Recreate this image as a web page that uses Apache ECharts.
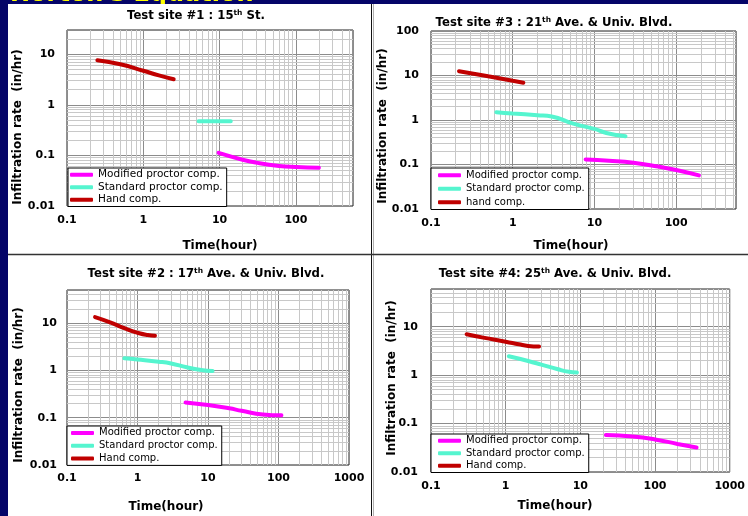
<!DOCTYPE html>
<html>
<head>
<meta charset="utf-8">
<script src="https://cdn.jsdelivr.net/npm/echarts@6/dist/echarts.min.js"></script>
<style>
html, body { margin: 0; padding: 0; background: #050568; }
#chart { width: 748px; height: 516px; }
</style>
</head>
<body>
<div id="chart"></div>
<script>
// Test site #1 : 15th St.
var site1ModTime = [9.7, 20, 30, 60, 100, 200];
var site1ModRate = [0.112, 0.082, 0.072, 0.062, 0.059, 0.057];
var site1StdTime = [5.3, 8, 14];
var site1StdRate = [0.47, 0.47, 0.47];
var site1HandTime = [0.25, 0.5, 1, 1.6, 2.5];
var site1HandRate = [7.6, 6.3, 4.7, 3.8, 3.2];

// Test site #3 : 21th Ave. & Univ. Blvd.
var site3ModTime = [7.8, 15, 30, 60, 100, 190];
var site3ModRate = [0.13, 0.122, 0.11, 0.09, 0.075, 0.057];
var site3StdTime = [0.63, 1, 2, 3, 5.5, 10, 14, 24];
var site3StdRate = [1.5, 1.4, 1.28, 1.2, 0.83, 0.63, 0.51, 0.43];
var site3HandTime = [0.22, 0.5, 1, 1.35];
var site3HandRate = [12.5, 9.6, 7.6, 6.9];

// Test site #2 : 17th Ave. & Univ. Blvd.
var site2ModTime = [4.8, 10, 20, 30, 60, 110];
var site2ModRate = [0.21, 0.185, 0.158, 0.14, 0.117, 0.112];
var site2StdTime = [0.65, 1, 2, 3, 5, 8, 11.6];
var site2StdRate = [1.8, 1.7, 1.53, 1.4, 1.16, 1.02, 0.97];
var site2HandTime = [0.25, 0.4, 0.68, 1.06, 1.4, 1.77];
var site2HandRate = [13.4, 10.5, 7.6, 6.1, 5.6, 5.4];

// Test site #4: 25th Ave. & Univ. Blvd.
var site4ModTime = [22, 50, 100, 200, 360];
var site4ModRate = [0.058, 0.054, 0.047, 0.038, 0.032];
var site4StdTime = [1.1, 2, 3, 5, 7, 9];
var site4StdRate = [2.45, 1.96, 1.65, 1.32, 1.17, 1.13];
var site4HandTime = [0.3, 0.5, 1, 1.5, 2, 2.8];
var site4HandRate = [7, 5.95, 4.9, 4.33, 4.0, 3.9];

var seriesNames = ['Modified proctor comp.', 'Standard proctor comp.', 'Hand comp.'];
var seriesNamesSite3 = ['Modified proctor comp.', 'Standard proctor comp.', 'hand comp.'];
var xTickLabels = ['0.1', '1', '10', '100', '1000'];
var yTickLabels = ['0.01', '0.1', '1', '10', '100'];

var FONT = "'DejaVu Sans', Verdana, sans-serif";
var colors = ['#FF00FF', '#55F5CF', '#C00000'];

var panels = [
    {
        title: '{b|Test site #1 : 15}{s|th}{b| St.}', titlePos: [196, 16],
        grid: {left: 67, top: 30, width: 286, height: 176},
        xMax: 560, yMax: 30, xMargin: 9, yMargin: 12,
        xName: [220, 246], yName: [18, 127],
        legend: {left: 68, top: 168, fontSize: 10.5, lineHeight: 11.5, padding: [1, 4, 1, 2]},
        names: seriesNames,
        lines: [[site1ModTime, site1ModRate], [site1StdTime, site1StdRate], [site1HandTime, site1HandRate]]
    },
    {
        title: '{b|Test site #3 : 21}{s|th}{b| Ave. & Univ. Blvd.}', titlePos: [554, 23],
        grid: {left: 431, top: 31, width: 305, height: 178},
        xMax: 540, yMax: 100, xMargin: 9, yMargin: 12,
        xName: [571, 246], yName: [383, 126],
        legend: {left: 431, top: 168, fontSize: 10, lineHeight: 12.5, padding: [1, 4, 1, 7]},
        names: seriesNamesSite3,
        lines: [[site3ModTime, site3ModRate], [site3StdTime, site3StdRate], [site3HandTime, site3HandRate]]
    },
    {
        title: '{b|Test site #2 : 17}{s|th}{b| Ave. & Univ. Blvd.}', titlePos: [206, 274],
        grid: {left: 67, top: 290, width: 282, height: 175},
        xMax: 1000, yMax: 50, xMargin: 8, yMargin: 10,
        xName: [166, 507], yName: [19, 385],
        legend: {left: 67, top: 426, fontSize: 10, lineHeight: 11.8, padding: [1, 4, 1, 4]},
        names: seriesNames,
        lines: [[site2ModTime, site2ModRate], [site2StdTime, site2StdRate], [site2HandTime, site2HandRate]]
    },
    {
        title: '{b|Test site #4: 25}{s|th}{b| Ave. & Univ. Blvd.}', titlePos: [555, 274],
        grid: {left: 431, top: 289, width: 302, height: 183},
        xMax: 1000, yMax: 60, xMargin: 9, yMargin: 13,
        xName: [555, 506], yName: [392, 378],
        legend: {left: 431, top: 434, fontSize: 10, lineHeight: 11.5, padding: [1, 4, 1, 7]},
        names: seriesNames,
        lines: [[site4ModTime, site4ModRate], [site4StdTime, site4StdRate], [site4HandTime, site4HandRate]]
    }
];

// minor log gridlines 2..9 of every decade inside the range
function minorValues(lo, hi) {
    var out = [];
    for (var e = Math.floor(Math.log(lo) / Math.LN10); Math.pow(10, e) < hi; e++) {
        for (var k = 2; k <= 9; k++) {
            var v = Number((k * Math.pow(10, e)).toPrecision(3));
            if (v > lo && v < hi) out.push(v);
        }
    }
    return out;
}

function tickFormatter(labels) {
    return function (v) {
        var l = Math.log(v) / Math.LN10;
        var r = Math.round(l);
        if (Math.abs(l - r) > 1e-6) return '';
        var s = String(Number(Math.pow(10, r).toPrecision(1)));
        return labels.indexOf(s) >= 0 ? s : '';
    };
}

function zip(a, b) {
    return a.map(function (x, i) { return [x, b[i]]; });
}

var grids = [], xAxes = [], yAxes = [], legends = [], series = [], graphics = [];

graphics.push({type: 'text', x: 10, y: 6.5, z: -6, silent: true,
    style: {text: "Horton's Equation", fill: '#FFFF00', font: 'bold 24px ' + FONT, verticalAlign: 'bottom'}});
graphics.push({type: 'rect', z: -5, silent: true, shape: {x: 8, y: 4, width: 740, height: 512}, style: {fill: '#fff'}});
graphics.push({type: 'line', z: 10, silent: true, shape: {x1: 371.5, y1: 4, x2: 371.5, y2: 516}, style: {stroke: '#111', lineWidth: 1}});
graphics.push({type: 'line', z: 10, silent: true, shape: {x1: 373.5, y1: 4, x2: 373.5, y2: 516}, style: {stroke: '#b0b0b0', lineWidth: 1}});
graphics.push({type: 'line', z: 10, silent: true, shape: {x1: 8, y1: 254.5, x2: 748, y2: 254.5}, style: {stroke: '#333', lineWidth: 1.5}});

panels.forEach(function (p, i) {
    grids.push({
        left: p.grid.left, top: p.grid.top, width: p.grid.width, height: p.grid.height,
        show: true, borderColor: '#222', borderWidth: 1, backgroundColor: 'transparent'
    });
    xAxes.push({
        type: 'log', gridIndex: i, logBase: 10, min: 0.1, max: p.xMax, interval: 1,
        axisLine: {show: false}, axisTick: {show: false},
        splitLine: {show: true, lineStyle: {color: '#8c8c8c', width: 1}},
        axisLabel: {margin: p.xMargin, fontSize: 11, fontWeight: 'bold', color: '#000', fontFamily: FONT,
            formatter: tickFormatter(xTickLabels)}
    });
    yAxes.push({
        type: 'log', gridIndex: i, logBase: 10, min: 0.01, max: p.yMax, interval: 1,
        axisLine: {show: false}, axisTick: {show: false},
        splitLine: {show: true, lineStyle: {color: '#8c8c8c', width: 1}},
        axisLabel: {margin: p.yMargin, fontSize: 11, fontWeight: 'bold', color: '#000', fontFamily: FONT,
            formatter: tickFormatter(yTickLabels)}
    });

    // minor gridlines
    var mlData = minorValues(0.1, p.xMax).map(function (v) { return {xAxis: v}; })
        .concat(minorValues(0.01, p.yMax).map(function (v) { return {yAxis: v}; }));
    series.push({
        type: 'line', name: 'minor' + i, xAxisIndex: i, yAxisIndex: i, data: [],
        silent: true, animation: false,
        markLine: {
            silent: true, z: 1, animation: false, symbol: ['none', 'none'],
            label: {show: false}, emphasis: {disabled: true},
            lineStyle: {color: '#c8c8c8', width: 1, type: 'solid'},
            data: mlData
        }
    });

    p.lines.forEach(function (ln, k) {
        series.push({
            type: 'line', name: p.names[k], xAxisIndex: i, yAxisIndex: i,
            data: zip(ln[0], ln[1]), smooth: true, symbol: 'none', showSymbol: false,
            z: 3, animation: false, silent: true,
            lineStyle: {width: 4, color: colors[k], cap: 'round'},
            itemStyle: {color: colors[k]}
        });
    });

    legends.push({
        orient: 'vertical', left: p.legend.left, top: p.legend.top,
        data: p.names, icon: 'roundRect', itemWidth: 23, itemHeight: 4, itemGap: 1,
        padding: p.legend.padding, backgroundColor: '#fff', borderColor: '#000', borderWidth: 1,
        selectedMode: false, z: 6,
        textStyle: {fontSize: p.legend.fontSize, lineHeight: p.legend.lineHeight, color: '#000', fontFamily: FONT}
    });

    graphics.push({type: 'text', x: p.titlePos[0], y: p.titlePos[1], z: 10, silent: true,
        style: {text: p.title, align: 'center', verticalAlign: 'middle', fill: '#000',
            rich: {
                b: {fontSize: 11.7, fontWeight: 'bold', fontFamily: FONT, lineHeight: 14},
                s: {fontSize: 7.5, fontWeight: 'bold', fontFamily: FONT, verticalAlign: 'top', lineHeight: 14, padding: [0, 0, 5, 0]}
            }}});
    graphics.push({type: 'text', x: p.xName[0], y: p.xName[1], z: 10, silent: true,
        style: {text: 'Time(hour)', align: 'center', verticalAlign: 'middle', fill: '#000',
            font: 'bold 12px ' + FONT}});
    graphics.push({type: 'text', x: p.yName[0], y: p.yName[1], rotation: Math.PI / 2, z: 10, silent: true,
        style: {text: 'Infiltration rate  (in/hr)', align: 'center', verticalAlign: 'middle', fill: '#000',
            font: 'bold 12px ' + FONT}});
});

var chart = echarts.init(document.getElementById('chart'), null, {renderer: 'canvas'});
chart.setOption({
    backgroundColor: '#050568',
    animation: false,
    grid: grids,
    xAxis: xAxes,
    yAxis: yAxes,
    legend: legends,
    series: series,
    graphic: {elements: graphics}
});
</script>
</body>
</html>
